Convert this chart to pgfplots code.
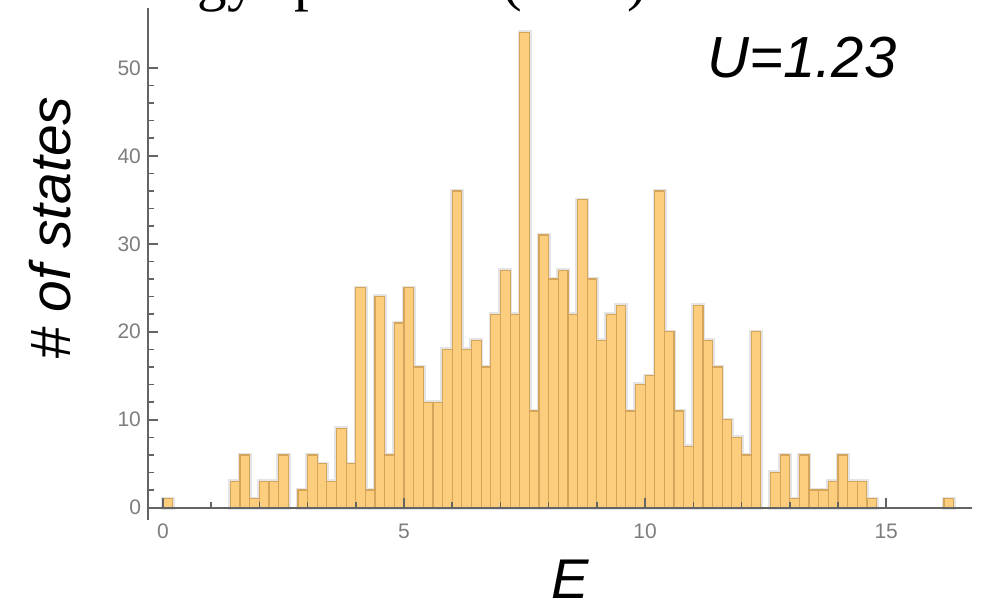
\documentclass[border=0pt]{standalone}
\usepackage{fontspec}
\setmainfont{Liberation Sans}
\newfontfamily\titlefont{Liberation Serif}
\usepackage{pgfplots}
\usepackage{pgfplotstable}
\pgfplotsset{compat=1.18}

\definecolor{barfill}{RGB}{253,205,126}
\definecolor{baredge}{RGB}{214,165,92}
\definecolor{halo}{RGB}{228,228,228}
\definecolor{axgray}{RGB}{100,100,100}
\definecolor{ticklab}{RGB}{125,125,125}

% bin centres (width 0.2) and counts
\pgfplotstableread{
E n
0.1 1
1.5 3
1.7 6
1.9 1
2.1 3
2.3 3
2.5 6
2.9 2
3.1 6
3.3 5
3.5 3
3.7 9
3.9 5
4.1 25
4.3 2
4.5 24
4.7 6
4.9 21
5.1 25
5.3 16
5.5 12
5.7 12
5.9 18
6.1 36
6.3 18
6.5 19
6.7 16
6.9 22
7.1 27
7.3 22
7.5 54
7.7 11
7.9 31
8.1 26
8.3 27
8.5 22
8.7 35
8.9 26
9.1 19
9.3 22
9.5 23
9.7 11
9.9 14
10.1 15
10.3 36
10.5 20
10.7 11
10.9 7
11.1 23
11.3 19
11.5 16
11.7 10
11.9 8
12.1 6
12.3 20
12.7 4
12.9 6
13.1 1
13.3 6
13.5 2
13.7 2
13.9 3
14.1 6
14.3 3
14.5 3
14.7 1
16.3 1
}\hist

\begin{document}
\begin{tikzpicture}
\begin{axis}[
  at={(0,0)}, anchor=south west,
  scale only axis, width=412pt, height=256pt,
  xmin=-0.31, xmax=16.78, ymin=-1.4, ymax=56.8,
  axis x line=middle, axis y line=left,
  axis line style={-, axgray, line width=1pt},
  axis on top,
  xtick={0,5,10,15}, ytick={0,10,...,50},
  minor x tick num=4, minor y tick num=4,
  tick align=inside,
  major tick length=5pt, minor tick length=3pt,
  tick style={axgray, line width=0.8pt},
  hide obscured x ticks=false, hide obscured y ticks=false,
  /pgf/number format/assume math mode=true,
  ticklabel style={font=\fontsize{10.5}{12}\selectfont, text=ticklab},
  xticklabel style={yshift=-4.5pt},
]
\addplot[ybar, bar width=0.2, bar shift=0pt, draw=halo, line width=2.2pt, fill=halo] table[x=E, y=n] {\hist};
\addplot[ybar, bar width=0.2, bar shift=0pt, fill=barfill, draw=baredge, line width=0.6pt] table[x=E, y=n] {\hist};
\end{axis}
\node[rotate=90, font=\fontsize{28.5}{30}\itshape] at (-49pt,146pt) {\# of states};
\node[font=\fontsize{28}{30}\itshape] at (211pt,-29.5pt) {E};
\node[font=\fontsize{29}{32}\itshape] at (327pt,231pt) {U=1.23};
\node[anchor=base west, inner sep=0pt, font=\titlefont\fontsize{29.5}{30}\selectfont] at (-30.5pt,260.5pt) {Energy spectrum (N=8)};
\pgfresetboundingbox
\path[use as bounding box] (-74pt,-43.5pt) rectangle (421pt,260pt);
\end{tikzpicture}
\end{document}
